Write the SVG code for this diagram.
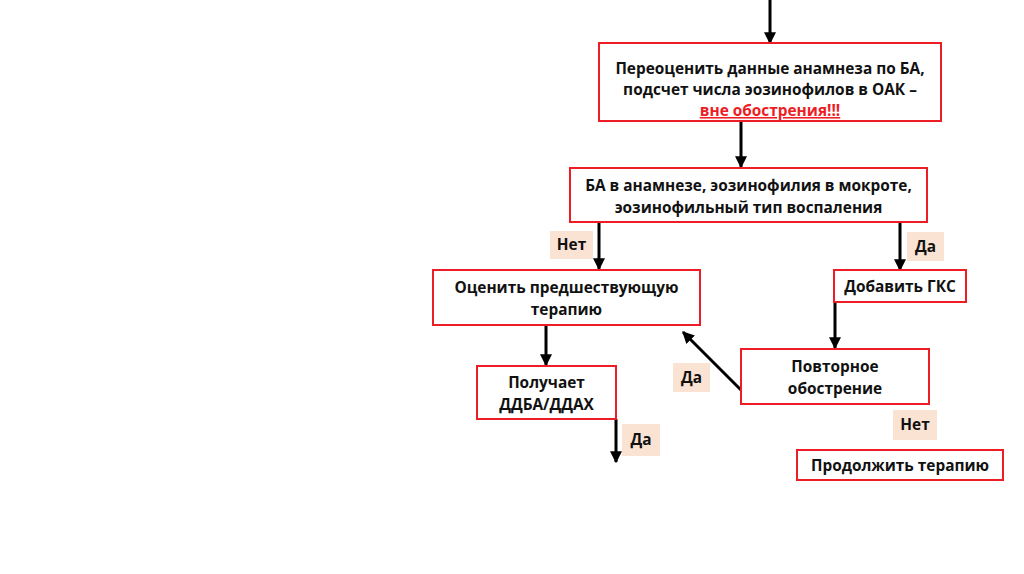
<svg xmlns="http://www.w3.org/2000/svg" width="1024" height="574" viewBox="0 0 1024 574">
<defs>
<marker id="ah" viewBox="0 0 10 10" refX="9" refY="5" markerWidth="4" markerHeight="4" orient="auto" markerUnits="strokeWidth">
<path d="M0,0 L10,5 L0,10 z" fill="#000"/>
</marker>
<style>
.box{fill:#fff;stroke:#ee1c25;stroke-width:2}
.t{font-family:"Open Sans","Noto Sans",sans-serif;font-weight:bold;font-size:15.4px;fill:#111;text-anchor:middle}
.lab{fill:#fbe3d4}
.c{stroke:#000;stroke-width:3;fill:none;marker-end:url(#ah)}
</style>
</defs>
<rect width="1024" height="574" fill="#fff"/>
<g id="connectors">
<line class="c" x1="770" y1="0" x2="770" y2="43"/>
<line class="c" x1="741" y1="121" x2="741" y2="167"/>
<line class="c" x1="599" y1="222" x2="599" y2="269"/>
<line class="c" x1="900" y1="222" x2="900" y2="270"/>
<line class="c" x1="835" y1="302" x2="835" y2="348"/>
<line class="c" x1="546" y1="325" x2="546" y2="365"/>
<line class="c" x1="616" y1="419" x2="616" y2="462"/>
<line class="c" x1="741" y1="390" x2="683" y2="332"/>
</g>
<g id="lab-net1"><rect class="lab" x="550" y="231" width="43" height="28"/><text class="t" x="571.5" y="250">Нет</text></g>
<g id="lab-da1"><rect class="lab" x="907" y="232" width="37" height="29"/><text class="t" x="925.5" y="252">Да</text></g>
<g id="lab-da2"><rect class="lab" x="673" y="363" width="37" height="29"/><text class="t" x="691.5" y="383">Да</text></g>
<g id="lab-da3"><rect class="lab" x="622" y="424" width="38" height="32"/><text class="t" x="641" y="445">Да</text></g>
<g id="lab-net2"><rect class="lab" x="893" y="410" width="44" height="30"/><text class="t" x="915" y="430">Нет</text></g>
<g id="node-reassess">
<rect class="box" x="599" y="43" width="342" height="78"/>
<text class="t" x="770" y="74">Переоценить данные анамнеза по БА,</text>
<text class="t" x="770" y="95">подсчет числа эозинофилов в ОАК –</text>
<text class="t" x="770" y="116" style="fill:#ee1c25" text-decoration="underline">вне обострения!!!</text>
</g>
<g id="node-history">
<rect class="box" x="570" y="168" width="357" height="54"/>
<text class="t" x="748.5" y="191">БА в анамнезе, эозинофилия в мокроте,</text>
<text class="t" x="748.5" y="213">эозинофильный тип воспаления</text>
</g>
<g id="node-evaluate">
<rect class="box" x="433" y="270" width="267" height="55"/>
<text class="t" x="566.5" y="293">Оценить предшествующую</text>
<text class="t" x="566.5" y="315">терапию</text>
</g>
<g id="node-gks">
<rect class="box" x="834" y="270" width="132" height="32"/>
<text class="t" x="900" y="292">Добавить ГКС</text>
</g>
<g id="node-repeat">
<rect class="box" x="741" y="349" width="188" height="55"/>
<text class="t" x="835" y="372">Повторное</text>
<text class="t" x="835" y="394">обострение</text>
</g>
<g id="node-receives">
<rect class="box" x="477" y="366" width="139" height="53"/>
<text class="t" x="546.5" y="388">Получает</text>
<text class="t" x="546.5" y="410">ДДБА/ДДАХ</text>
</g>
<g id="node-continue">
<rect class="box" x="797" y="450" width="206" height="30"/>
<text class="t" x="900" y="471">Продолжить терапию</text>
</g>
</svg>
